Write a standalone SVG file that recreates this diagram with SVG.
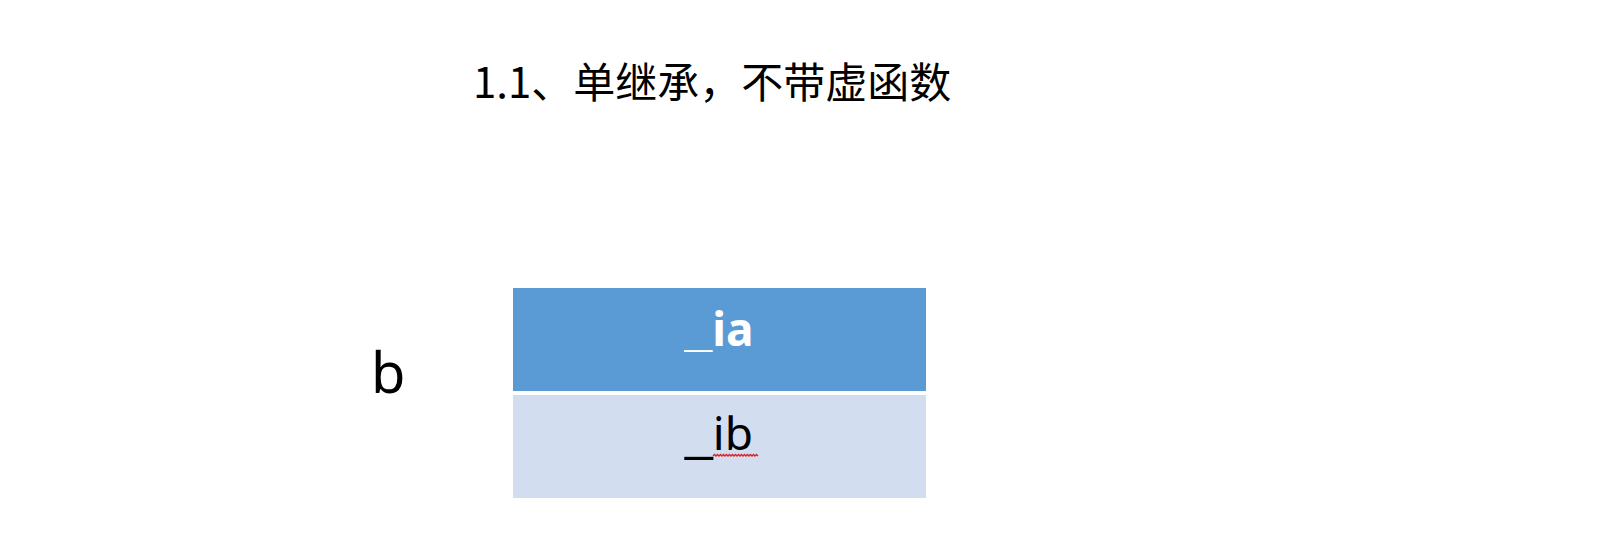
<svg xmlns="http://www.w3.org/2000/svg" width="1600" height="545" viewBox="0 0 1600 545">
<style>
.title{font-family:"Noto Sans CJK SC","Noto Sans",sans-serif;font-size:42px;fill:#000}
.lbl{font-family:"Noto Sans","Liberation Sans",sans-serif;fill:#000}
.hdr{font-family:"Noto Sans","Liberation Sans",sans-serif;font-size:46px;font-weight:bold;fill:#fff}
.cell{font-family:"Noto Sans","Liberation Sans",sans-serif;font-size:46px;fill:#000}
.us{font-family:"Liberation Sans",sans-serif;font-size:50px}
</style>
<rect x="0" y="0" width="1600" height="545" fill="#fff"/>
<text id="title" class="title" x="473" y="98">1.1、单继承，不带虚函数</text>
<g id="label-b"><text class="lbl" x="371" y="393" font-size="56">b</text></g>
<g id="row-ia">
<rect x="513" y="288" width="413" height="103" fill="#5B9BD5"/>
<text class="hdr" x="719" y="346" text-anchor="middle"><tspan class="us">_</tspan>ia</text>
</g>
<g id="row-ib">
<rect x="513" y="395" width="413" height="103" fill="#D2DEEF"/>
<text class="cell" x="719" y="450" text-anchor="middle"><tspan class="us">_</tspan>ib</text>
<path d="M713 456 l1.5 -1.5 l1.5 1.5 l1.5 -1.5 l1.5 1.5 l1.5 -1.5 l1.5 1.5 l1.5 -1.5 l1.5 1.5 l1.5 -1.5 l1.5 1.5 l1.5 -1.5 l1.5 1.5 l1.5 -1.5 l1.5 1.5 l1.5 -1.5 l1.5 1.5 l1.5 -1.5 l1.5 1.5 l1.5 -1.5 l1.5 1.5 l1.5 -1.5 l1.5 1.5 l1.5 -1.5 l1.5 1.5 l1.5 -1.5 l1.5 1.5 l1.5 -1.5 l1.5 1.5 l1.5 -1.5 l1.5 1.5" fill="none" stroke="#E02020" stroke-width="1.4"/>
</g>
<g id="connectors"></g>
</svg>
